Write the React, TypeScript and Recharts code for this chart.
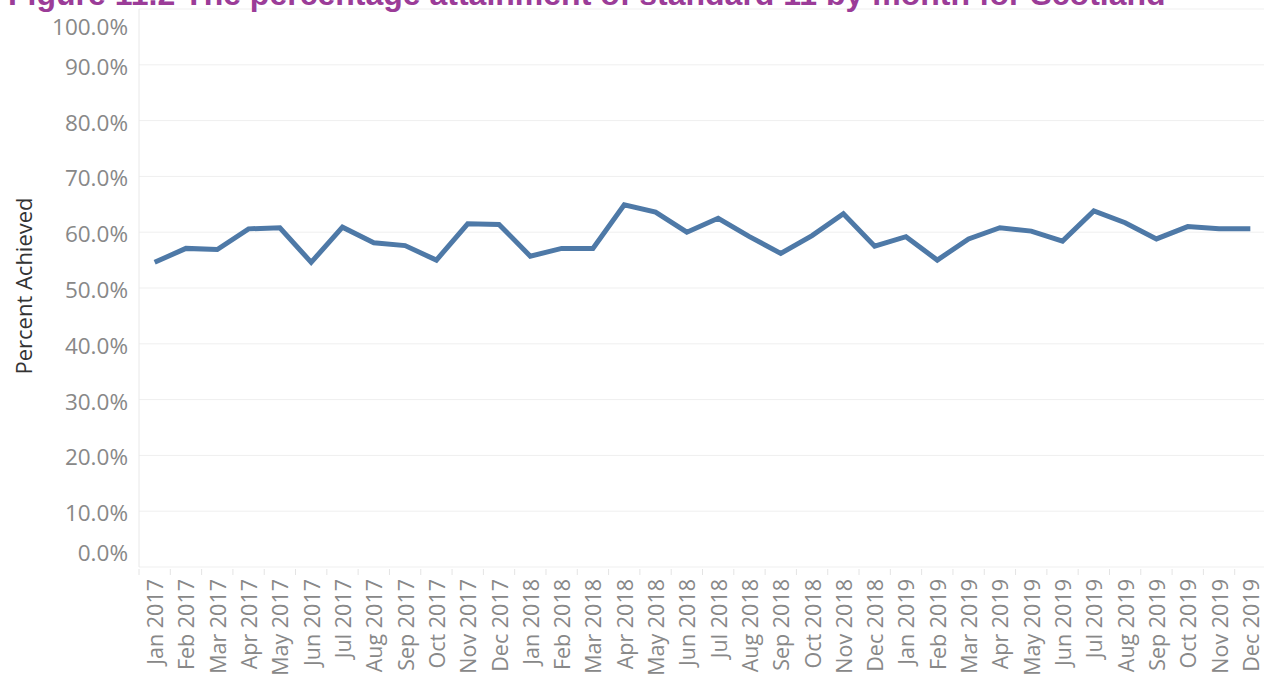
import { LineChart, Line, XAxis, YAxis, CartesianGrid } from 'recharts'

const months = [
  'Jan 2017', 'Feb 2017', 'Mar 2017', 'Apr 2017', 'May 2017', 'Jun 2017',
  'Jul 2017', 'Aug 2017', 'Sep 2017', 'Oct 2017', 'Nov 2017', 'Dec 2017',
  'Jan 2018', 'Feb 2018', 'Mar 2018', 'Apr 2018', 'May 2018', 'Jun 2018',
  'Jul 2018', 'Aug 2018', 'Sep 2018', 'Oct 2018', 'Nov 2018', 'Dec 2018',
  'Jan 2019', 'Feb 2019', 'Mar 2019', 'Apr 2019', 'May 2019', 'Jun 2019',
  'Jul 2019', 'Aug 2019', 'Sep 2019', 'Oct 2019', 'Nov 2019', 'Dec 2019',
]

// percent achieved
const percentAchieved = [
  54.6, 57.1, 56.9, 60.6, 60.8, 54.6, 60.9, 58.1, 57.6, 55.0, 61.5, 61.4,
  55.7, 57.1, 57.1, 64.9, 63.6, 60.0, 62.5, 59.2, 56.2, 59.4, 63.3, 57.5,
  59.2, 55.0, 58.8, 60.8, 60.2, 58.4, 63.8, 61.7, 58.8, 61.0, 60.6, 60.6,
]

const yTicks = [0, 10, 20, 30, 40, 50, 60, 70, 80, 90, 100]

const TITLE = 'Figure 11.2 The percentage attainment of standard 11 by month for Scotland'

const data = months.map((m, i) => ({ month: m, pct: percentAchieved[i] }))

const CHART_W = 1266
const Y_AXIS_W = 139
const BAND = (CHART_W - Y_AXIS_W) / months.length

function MonthTick(props: any) {
  const { x, y, payload } = props
  const tx = x
  const ty = y + 12
  return (
    <g>
      <line x1={x - BAND / 2} x2={x - BAND / 2} y1={y + 2} y2={y + 8} stroke="#e4e4e4" strokeWidth={1} />
      <text
        x={tx}
        y={ty}
        transform={`rotate(-90 ${tx} ${ty})`}
        textAnchor="end"
        dominantBaseline="central"
        fill="#888888"
        fontSize={21.5}
        fontFamily="'Open Sans', sans-serif"
      >
        {payload.value}
      </text>
    </g>
  )
}

function PercentTick(props: any) {
  const { x, y, payload } = props
  let dy = 1.5
  if (payload.value === 100) dy = 17
  if (payload.value === 0) dy = -14.5
  return (
    <text
      x={x}
      y={y + dy}
      textAnchor="end"
      dominantBaseline="central"
      fill="#888888"
      fontSize={22.5}
      fontFamily="'Open Sans', sans-serif"
    >
      {payload.value.toFixed(1)}%
    </text>
  )
}

export default function App() {
  return (
    <div style={{ position: 'absolute', left: 0, top: 0, width: 1264, height: 675, overflow: 'hidden', background: '#fff' }}>
      <div
        style={{
          position: 'absolute',
          left: 8,
          top: -22,
          fontFamily: "'Liberation Sans', Arial, sans-serif",
          fontWeight: 'bold',
          fontSize: 32,
          lineHeight: '32px',
          color: '#9b3c98',
          whiteSpace: 'nowrap',
          zIndex: 2,
        }}
      >
        {TITLE}
      </div>
      <div
        style={{
          position: 'absolute',
          left: 23,
          top: 286,
          transform: 'translate(-50%, -50%) rotate(-90deg)',
          fontFamily: "'Open Sans', sans-serif",
          fontSize: 22,
          color: '#333333',
          whiteSpace: 'nowrap',
        }}
      >
        Percent Achieved
      </div>
      <LineChart
        width={CHART_W}
        height={675}
        data={data}
        margin={{ top: 9, right: 0, bottom: 0, left: 0 }}
      >
        <CartesianGrid vertical={false} stroke="#efefef" strokeWidth={1} />
        <XAxis
          dataKey="month"
          interval={0}
          height={108}
          tickLine={false}
          axisLine={false}
          tickSize={0}
          tickMargin={0}
          padding={{ left: BAND / 2, right: BAND / 2 }}
          tick={<MonthTick />}
        />
        <YAxis
          domain={[0, 100]}
          ticks={yTicks}
          width={Y_AXIS_W}
          tickLine={false}
          tickSize={0}
          tickMargin={11}
          axisLine={{ stroke: '#e8e8e8' }}
          tick={<PercentTick />}
        />
        <Line
          dataKey="pct"
          type="linear"
          stroke="#4e79a7"
          strokeWidth={5}
          dot={false}
          activeDot={false}
          isAnimationActive={false}
        />
      </LineChart>
    </div>
  )
}
